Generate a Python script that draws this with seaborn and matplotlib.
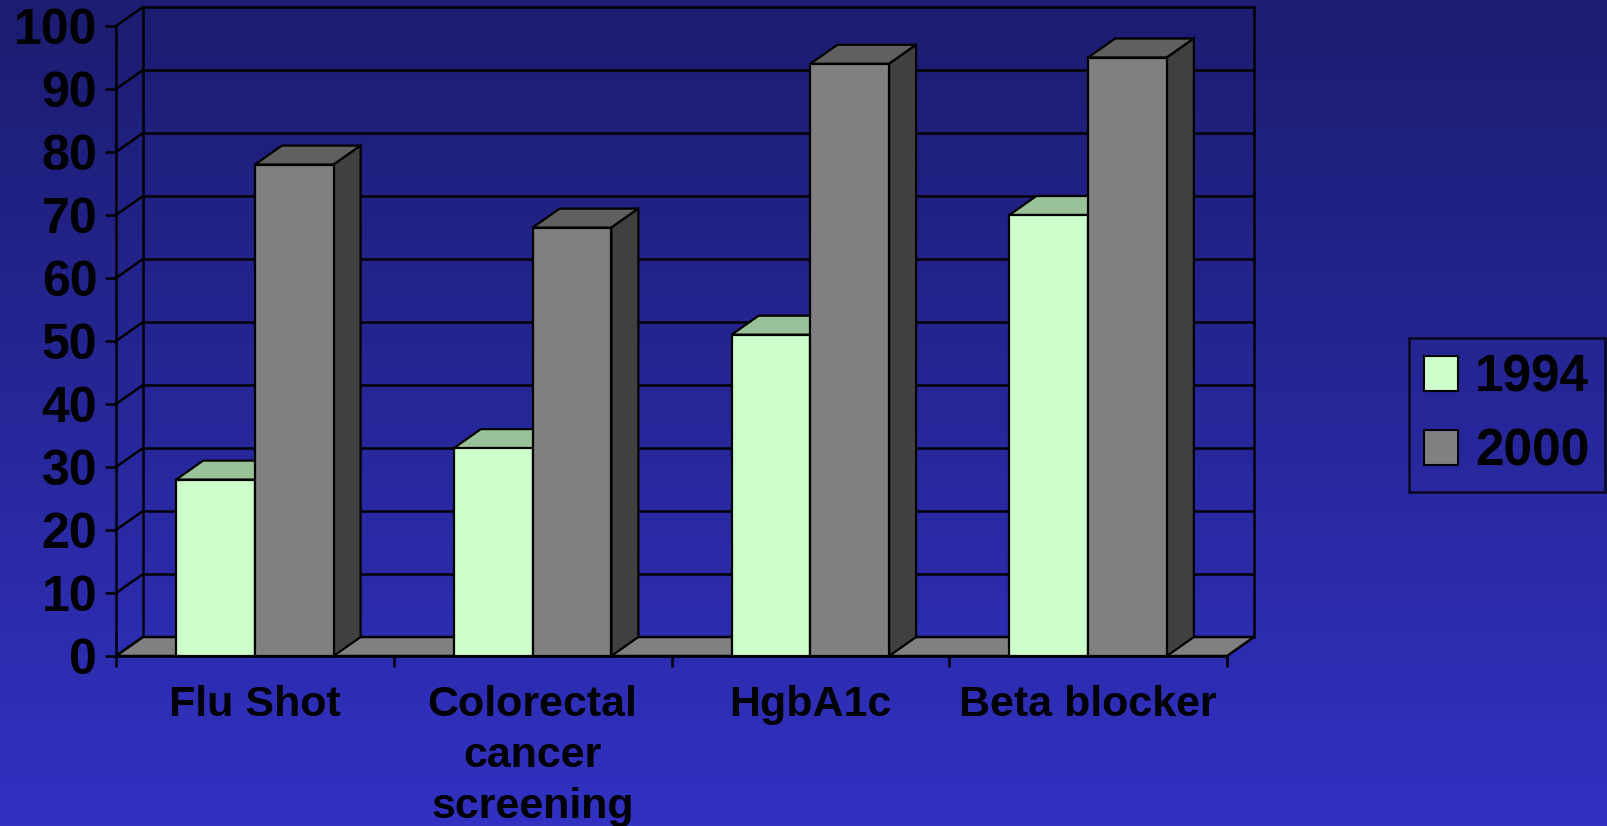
import numpy as np
import pandas as pd
import matplotlib
matplotlib.use("Agg")
import matplotlib.pyplot as plt
import seaborn as sns
from matplotlib.patches import Polygon, Patch
from matplotlib.colors import LinearSegmentedColormap

# ---- data ----
categories = ["Flu Shot", "Colorectal\ncancer\nscreening", "HgbA1c", "Beta blocker"]
years = ["1994", "2000"]
values_1994 = [28, 33, 51, 70]
values_2000 = [78, 68, 94, 95]
y_ticks = list(range(0, 101, 10))

# ---- styles ----
front_colors = {"1994": "#ccffcc", "2000": "#808080"}
top_colors = {"1994": "#99c299", "2000": "#606060"}
side_colors = {"1994": "#669966", "2000": "#404040"}

df = pd.DataFrame({
    "category": categories * 2,
    "year": [years[0]] * len(categories) + [years[1]] * len(categories),
    "value": values_1994 + values_2000,
})

sns.set_theme(style="white")
plt.rcParams["font.family"] = ["Liberation Sans", "DejaVu Sans"]
plt.rcParams["font.weight"] = "bold"
plt.rcParams["text.color"] = "black"

FW, FH, DPI = 1607, 826, 100
fig = plt.figure(figsize=(FW / DPI, FH / DPI), dpi=DPI)

# background gradient
bg = fig.add_axes([0, 0, 1, 1], zorder=-5)
grad = np.linspace(0, 1, 256).reshape(-1, 1)
cmap = LinearSegmentedColormap.from_list("bg", ["#1c1c70", "#3131c2"])
bg.imshow(grad, aspect="auto", cmap=cmap, extent=[0, 1, 0, 1], origin="upper")
bg.axis("off")

# front plane axes
ax = fig.add_axes([116 / FW, (FH - 656) / FH, (1227 - 116) / FW, 630 / FH])
ax.patch.set_visible(False)

sns.barplot(data=df, x="category", y="value", hue="year", hue_order=years,
            palette=front_colors, width=0.567, edgecolor="black", linewidth=1.6,
            saturation=1, ax=ax, legend=False)
ax.set_xlim(-0.5, len(categories) - 0.5)
ax.set_ylim(0, 100)

# depth offset (pixels) converted to data units
p0 = ax.transData.transform((0, 0))
q = ax.transData.inverted().transform(p0 + np.array([27 * DPI / 100, 19 * DPI / 100]))
dx, dy = q[0], q[1]

x0a, x1a = ax.get_xlim()
LW = 1.8
# back wall gridlines + left wall diagonals
for t in y_ticks:
    ax.plot([x0a + dx, x1a + dx], [t + dy, t + dy], color="black", lw=LW, zorder=1, clip_on=False)
    ax.plot([x0a, x0a + dx], [t, t + dy], color="black", lw=LW, zorder=1, clip_on=False)
ax.plot([x0a + dx, x0a + dx], [dy, 100 + dy], color="black", lw=LW, zorder=1, clip_on=False)
ax.plot([x1a + dx, x1a + dx], [dy, 100 + dy], color="black", lw=LW, zorder=1, clip_on=False)

# floor
ax.add_patch(Polygon([(x0a, 0), (x1a, 0), (x1a + dx, dy), (x0a + dx, dy)], closed=True,
                     facecolor="#808080", edgecolor="black", lw=LW, zorder=1.5, clip_on=False))

# 3D bar tops and sides
for zi, (cont, yr) in enumerate(zip(ax.containers, years)):
    z = 3 + zi
    for bar in cont:
        bx, bw, bh = bar.get_x(), bar.get_width(), bar.get_height()
        bar.set_zorder(z)
        bar.set_clip_on(False)
        ax.add_patch(Polygon([(bx, bh), (bx + bw, bh), (bx + bw + dx, bh + dy), (bx + dx, bh + dy)],
                             closed=True, facecolor=top_colors[yr], edgecolor="black", lw=1.6,
                             zorder=z - 0.1, clip_on=False))
        ax.add_patch(Polygon([(bx + bw, 0), (bx + bw + dx, dy), (bx + bw + dx, bh + dy), (bx + bw, bh)],
                             closed=True, facecolor=side_colors[yr], edgecolor="black", lw=1.6,
                             zorder=z - 0.1, clip_on=False))

# spines
for s in ["top", "right"]:
    ax.spines[s].set_visible(False)
for s in ["left", "bottom"]:
    ax.spines[s].set_color("black")
    ax.spines[s].set_linewidth(LW)
    ax.spines[s].set_zorder(2)

ax.set_xlabel("")
ax.set_ylabel("")
ax.set_yticks(y_ticks)
ax.set_yticklabels([str(t) for t in y_ticks], fontsize=36, fontweight="bold", color="black")
ax.tick_params(axis="y", left=True, length=8, width=LW, color="black", pad=5.5, direction="out")

ax.set_xticks(np.arange(len(categories) + 1) - 0.5)
ax.set_xticklabels([])
ax.set_xticks(np.arange(len(categories)), minor=True)
ax.set_xticklabels(categories, minor=True, fontsize=31, fontweight="bold", color="black",
                   linespacing=1.36)
ax.tick_params(axis="x", which="major", bottom=True, length=8, width=LW, color="black", direction="out")
ax.tick_params(axis="x", which="minor", bottom=True, length=0, pad=21)

# legend
handles = [Patch(facecolor=front_colors[y], edgecolor="black", linewidth=1.5) for y in years]
leg = fig.legend(handles, years, loc="center", bbox_to_anchor=(1507 / FW, 1 - 415 / FH),
                 prop={"size": 37, "weight": "bold"}, frameon=True, fancybox=False,
                 edgecolor="black", facecolor="none",
                 handlelength=0.66, handleheight=0.66, handletextpad=0.33,
                 labelspacing=0.49, borderpad=0.3)
leg.get_frame().set_linewidth(LW)
for t in leg.get_texts():
    t.set_color("black")

fig.savefig("out.png", dpi=DPI)
